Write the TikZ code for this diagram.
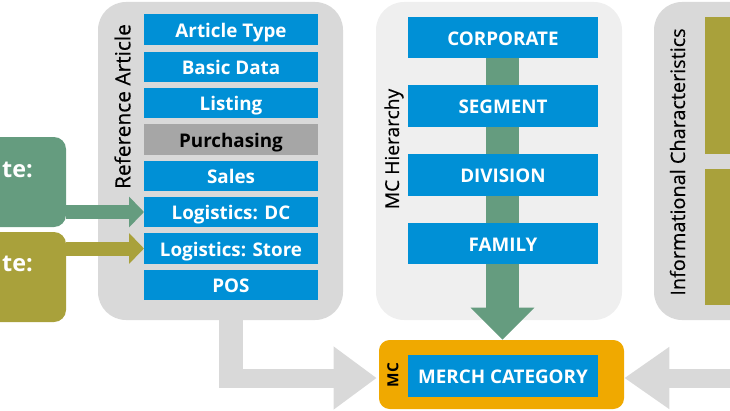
\documentclass[tikz,border=0pt]{standalone}
\usepackage{fontspec}
\setmainfont{Open Sans}
\newfontfamily\sidefont[FakeBold=0.25]{Open Sans}
\usetikzlibrary{arrows.meta}
\pgfdeclarelayer{panels}
\pgfdeclarelayer{links}
\pgfsetlayers{panels,links,main}
\definecolor{cblue}{HTML}{0090D6}
\definecolor{cgrey}{HTML}{A6A6A6}
\definecolor{cpanel}{HTML}{D9D9D9}
\definecolor{clight}{HTML}{EFEFEF}
\definecolor{cgreen}{HTML}{659C7F}
\definecolor{colive}{HTML}{A9A13B}
\definecolor{corange}{HTML}{F0A900}
\def\px{0.75pt}
\tikzset{
  bx/.style={rectangle,inner sep=0pt,outer sep=0pt,text height=11.5pt,text depth=0pt,font=\fontsize{14.1pt}{16pt}\selectfont\bfseries,text=white},
  refbox/.style={bx,fill=cblue,minimum width=174*\px},
  hierbox/.style={bx,fill=cblue,minimum width=190*\px,minimum height=41.5*\px},
  panel/.style={rectangle,inner sep=0pt,outer sep=0pt,rounded corners=21pt,minimum height=318*\px},
  source/.style={rectangle,inner sep=0pt,outer sep=0pt,rounded corners=9pt,minimum width=106*\px,minimum height=90*\px},
  sidetext/.style={rotate=90,inner sep=0pt,text=black},
  srctext/.style={inner sep=0pt,text=white,font=\fontsize{17.5pt}{20pt}\selectfont\bfseries,anchor=east},
  fat/.style={line width=#1*\px},
  head/.style n args={2}{-{Triangle[length=#1*\px,width=#2*\px,sep=0pt]}}
}
\begin{document}
\begin{tikzpicture}[x=0.75pt,y=-0.75pt]
\useasboundingbox (0,0) rectangle (730,410);
% boxes
\node[refbox,minimum height=31*\px] (atype) at (231,29.5) {Article Type};
\node[refbox,minimum height=30*\px] (basic) at (231,67) {Basic Data};
\node[refbox,minimum height=30*\px] (listing) at (231,103) {Listing};
\node[refbox,fill=cgrey,text=black,minimum height=31*\px] (purch) at (231,139.5) {Purchasing};
\node[refbox,minimum height=30*\px] (sales) at (231,176) {Sales};
\node[refbox,minimum height=30*\px] (logdc) at (231,212) {Logistics: DC};
\node[refbox,minimum height=31*\px] (logst) at (231,248.5) {Logistics: Store};
\node[refbox,minimum height=30*\px] (pos) at (231,285) {POS};
\node[hierbox] (corp) at (503,37.5) {CORPORATE};
\node[hierbox] (seg) at (503,106) {SEGMENT};
\node[hierbox] (div) at (503,175) {DIVISION};
\node[hierbox] (fam) at (503,243.5) {FAMILY};
\node[hierbox] (merch) at (503,376) {MERCH CATEGORY};
\node[rectangle,inner sep=0pt,fill=colive,minimum width=60*\px,minimum height=137*\px] (infoa) at (735,85.5) {};
\node[rectangle,inner sep=0pt,fill=colive,minimum width=60*\px,minimum height=136*\px] (infob) at (735,237) {};
\node[sidetext,font=\fontsize{15.7pt}{18pt}\sidefont] (reflabel) at (122.5,106.5) {Reference Article};
\node[sidetext,font=\fontsize{14.4pt}{17pt}\sidefont] (mclabel) at (394,149) {MC Hierarchy};
\node[sidetext,font=\fontsize{14.9pt}{17pt}\sidefont] (infolabel) at (677.5,162) {Informational Characteristics};
\node[sidetext,font=\fontsize{11.5pt}{14pt}\selectfont\bfseries] (mctag) at (393,375) {MC};
\node[srctext] (dctext) at (33,170) {te:};
\node[srctext] (sttext) at (33,264) {te:};
\coordinate (rightin) at (735,378);
\coordinate (bend) at (219,378);
\begin{pgfonlayer}{panels}
\node[panel,fill=cpanel,minimum width=245*\px] (refp) at (220.5,161) {};
\node[panel,fill=clight,minimum width=246*\px] (mcp) at (499,161) {};
\node[panel,fill=cpanel,minimum width=130*\px] (infop) at (719,161) {};
\node[source,fill=cgreen] (dcsrc) at (13,182) {};
\node[source,fill=colive] (stsrc) at (13,277) {};
\node[rectangle,inner sep=0pt,fill=corange,rounded corners=8pt,minimum width=245*\px,minimum height=69*\px] (mcbox) at (501.5,374.5) {};
\end{pgfonlayer}
\begin{pgfonlayer}{links}
\draw[fat=14,cgreen,head={15}{30}] (dcsrc.east |- logdc.west) -- (logdc.west);
\draw[fat=14,colive,head={15}{30}] (stsrc.east |- logst.west) -- (logst.west);
\draw[fat=33,cgreen,head={32}{62}] ([xshift=-0.5*\px]corp.south) -- ([xshift=-0.5*\px]corp |- mcbox.north);
\draw[fat=24,cpanel] (pos |- refp.south) -- ([yshift=-9.5*\px]pos |- bend);
\draw[fat=19,cpanel,head={43}{60}] (bend) -- ([shift={(-2,3.5)}]mcbox.west);
\draw[fat=19,cpanel,head={45}{59}] (rightin) -- ([shift={(0,3.5)}]mcbox.east);
\end{pgfonlayer}
\end{tikzpicture}
\end{document}
